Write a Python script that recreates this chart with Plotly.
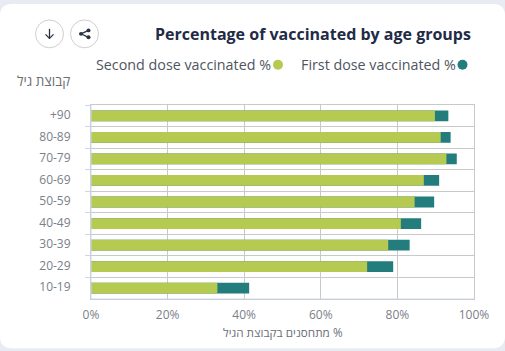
import plotly.graph_objects as go

age_groups = ["+90", "80-89", "70-79", "60-69", "50-59", "40-49", "30-39", "20-29", "10-19"]
second_dose = [89.8, 91.3, 92.8, 86.9, 84.5, 80.9, 77.6, 72.1, 33.0]
first_dose = [93.3, 93.9, 95.5, 90.9, 89.6, 86.2, 83.2, 78.9, 41.3]
x_ticks = [0, 20, 40, 60, 80, 100]
x_tick_labels = ["0%", "20%", "40%", "60%", "80%", "100%"]

title_text = "Percentage of vaccinated by age groups"
second_name = "Second dose vaccinated %"
first_name = "First dose vaccinated %"
y_title = "קבוצת גיל"
x_title = "\u200f% מתחסנים בקבוצת הגיל"

W, H = 505, 351
L, R, T, B = 91, 474, 104.5, 299.5
FONT = "Open Sans"
GREEN = "#b6ca51"
TEAL = "#237d7d"


def px(x):
    return (x - L) / (R - L)


def py(y):
    return (B - y) / (B - T)


def circle(cx, cy, r, **kw):
    return dict(type="circle", xref="paper", yref="paper", x0=px(cx - r), x1=px(cx + r),
                y0=py(cy + r), y1=py(cy - r), **kw)


def pth(points):
    return "M " + " L ".join(f"{px(a):.5f},{py(b):.5f}" for a, b in points)


fig = go.Figure()
fig.add_bar(y=age_groups, x=first_dose, orientation="h", name=first_name, marker_color=TEAL,
            marker_line_width=0)
fig.add_bar(y=age_groups, x=second_dose, orientation="h", name=second_name, marker_color=GREEN,
            marker_line_width=0)

r = 12
x0, x1, y0, y1 = 0, 505, 3, 349
c = lambda a, b: f"{px(a):.5f},{py(b):.5f}"
card = (f"M {c(x0 + r, y0)} L {c(x1 - r, y0)} Q {c(x1, y0)} {c(x1, y0 + r)} L {c(x1, y1 - r)} "
        f"Q {c(x1, y1)} {c(x1 - r, y1)} L {c(x0 + r, y1)} Q {c(x0, y1)} {c(x0, y1 - r)} "
        f"L {c(x0, y0 + r)} Q {c(x0, y0)} {c(x0 + r, y0)} Z")

shapes = [
    dict(type="path", path=card, xref="paper", yref="paper", layer="below",
         fillcolor="white", line_width=0),
    circle(49.5, 33, 14, line=dict(color="#cfcfcf", width=1), fillcolor="white"),
    circle(84.5, 33, 14, line=dict(color="#cfcfcf", width=1), fillcolor="white"),
    dict(type="path", xref="paper", yref="paper", line=dict(color="#2a3342", width=1.3),
         path=pth([(49.5, 28), (49.5, 37.5)])),
    dict(type="path", xref="paper", yref="paper", line=dict(color="#2a3342", width=1.3),
         path=pth([(45.5, 33.5), (49.5, 37.5), (53.5, 33.5)])),
    dict(type="path", xref="paper", yref="paper", line=dict(color="#2a3342", width=1.2),
         path=pth([(88.5, 29.5), (81, 33), (88.5, 36.5)])),
    circle(81, 33, 2, fillcolor="#2a3342", line_width=0),
    circle(88.5, 29.5, 2, fillcolor="#2a3342", line_width=0),
    circle(88.5, 36.5, 2, fillcolor="#2a3342", line_width=0),
    circle(462.5, 64, 5, fillcolor=TEAL, line_width=0),
    circle(278, 64, 5, fillcolor=GREEN, line_width=0),
    dict(type="path", xref="paper", yref="paper", line=dict(color="#ccd6eb", width=1),
         path=pth([(91, 104.5), (91, 299.5), (474, 299.5)])),
]

annotations = [
    dict(text=f"<b>{title_text}</b>", x=px(473), y=py(33), xanchor="right", yanchor="middle",
         font=dict(family=FONT, size=16, color="#222b45")),
    dict(text=first_name, x=px(458), y=py(63.5), xanchor="right", yanchor="middle",
         font=dict(family=FONT, size=14.3, color="#4f5560")),
    dict(text=second_name, x=px(272.5), y=py(63.5), xanchor="right", yanchor="middle",
         font=dict(family=FONT, size=14.3, color="#4f5560")),
    dict(text=y_title, x=px(71.5), y=py(80.5), xanchor="right", yanchor="middle",
         font=dict(family=FONT, size=13.5, color="#6b6f76")),
    dict(text=x_title, x=px(282.5), y=py(333), xanchor="center", yanchor="middle",
         font=dict(family=FONT, size=11.7, color="#6b6f76")),
]
for a in annotations:
    a.update(xref="paper", yref="paper", showarrow=False)

fig.update_layout(
    width=W, height=H, autosize=False,
    margin=dict(l=L, r=W - R, t=T, b=H - B, pad=0),
    barmode="overlay", bargap=0.5,
    paper_bgcolor="#e8ecf2", plot_bgcolor="rgba(0,0,0,0)",
    showlegend=False, shapes=shapes, annotations=annotations,
    font=dict(family=FONT, size=12, color="#7b8088"),
)
fig.update_xaxes(range=[0, 100], tickvals=x_ticks, ticktext=x_tick_labels, showgrid=True,
                 gridcolor="#c9c9c9", gridwidth=1, zeroline=False, showline=True,
                 linecolor="#c9c9c9", linewidth=1, mirror=True, ticks="", ticklabelstandoff=5,
                 automargin=False, tickfont=dict(size=12, color="#7b8088"))
fig.update_yaxes(type="category", categoryorder="array", categoryarray=age_groups,
                 autorange="reversed", tickson="boundaries", ticks="outside", ticklen=5,
                 tickcolor="#ccd6eb", showgrid=True, gridcolor="#c9c9c9", gridwidth=1,
                 showline=True, linecolor="#c9c9c9", linewidth=1, mirror=True, zeroline=False,
                 ticklabelstandoff=17, ticklabelshift=1, automargin=False,
                 tickfont=dict(size=12, color="#7b8088"))

fig.write_html("out.html", config={"displayModeBar": False},
               post_script="document.body.style.margin='0';document.body.style.overflow='hidden';")
